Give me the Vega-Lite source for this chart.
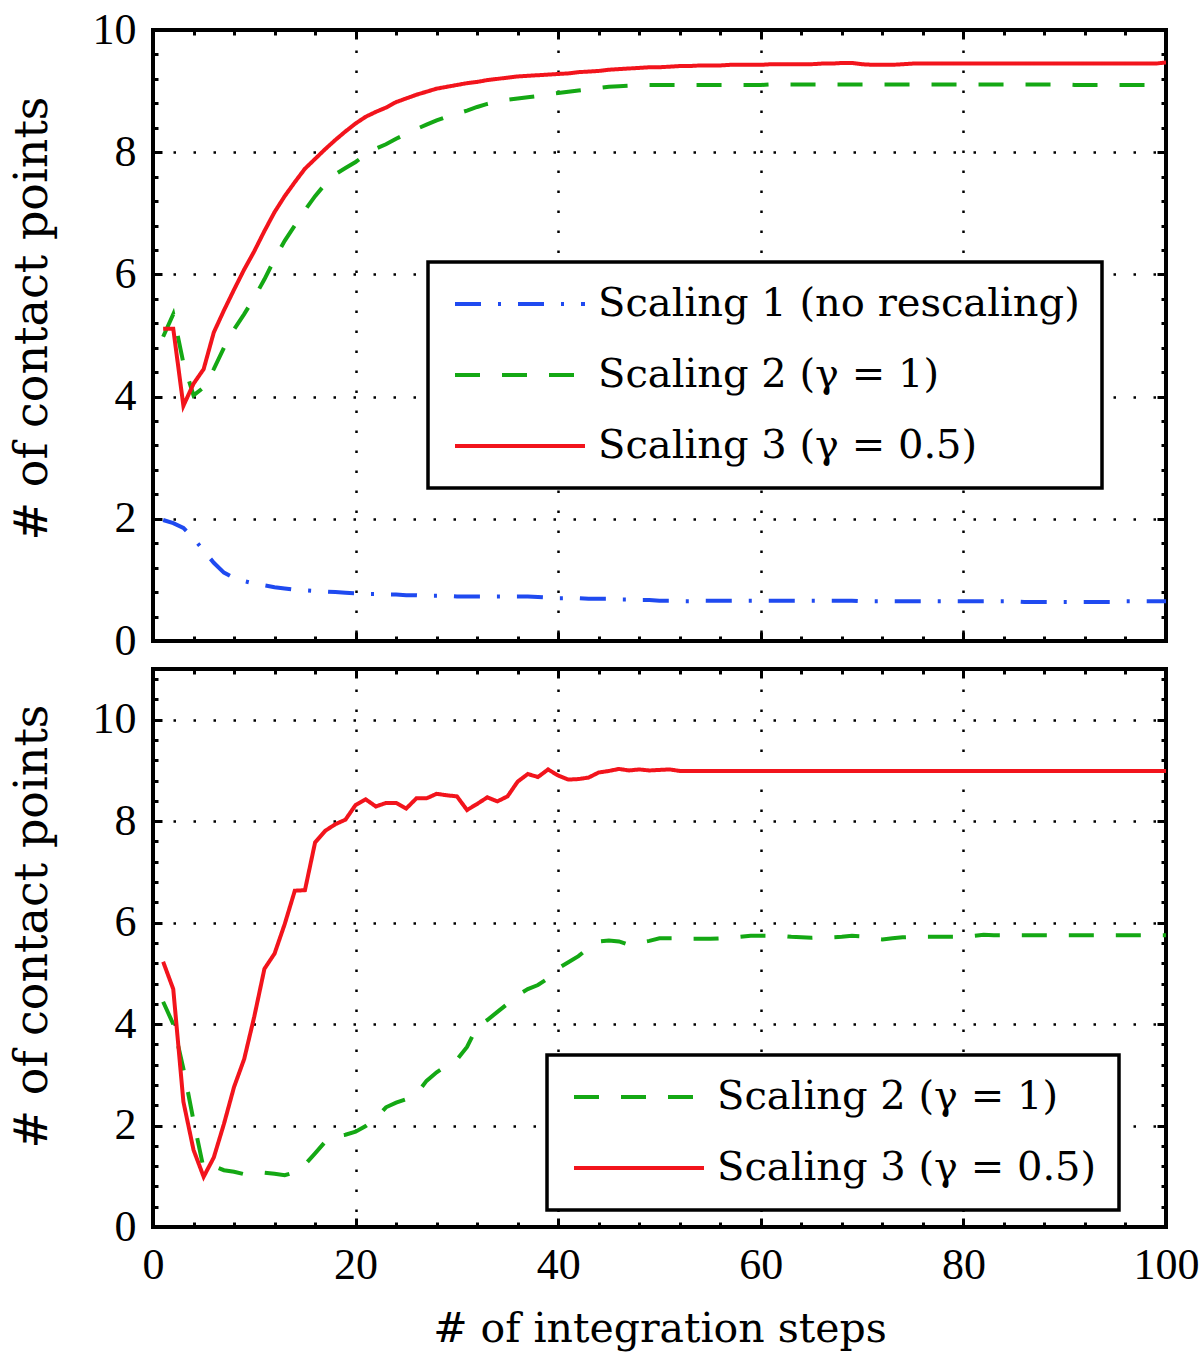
{
  "$schema": "https://vega.github.io/schema/vega-lite/v6.json",
  "padding": {"left": 7, "top": 6, "right": 2, "bottom": 2},
  "background": "white",
  "spacing": 0,
  "datasets": {
    "top": [
      {"x":1,"a":1.98,"b":4.98,"c":5.11},{"x":2,"a":1.93,"b":5.35,"c":5.11},{"x":3,"a":1.85,"b":4.55,"c":3.85},{"x":4,"a":1.68,"b":4.02,"c":4.21},{"x":5,"a":1.48,"b":4.15,"c":4.45},
      {"x":6,"a":1.28,"b":4.45,"c":5.05},{"x":7,"a":1.12,"b":4.80,"c":5.41},{"x":8,"a":1.03,"b":5.10,"c":5.75},{"x":9,"a":0.98,"b":5.35,"c":6.08},{"x":10,"a":0.94,"b":5.62,"c":6.38},
      {"x":11,"a":0.91,"b":5.92,"c":6.71},{"x":12,"a":0.88,"b":6.25,"c":7.02},{"x":13,"a":0.86,"b":6.55,"c":7.28},{"x":14,"a":0.84,"b":6.80,"c":7.51},{"x":15,"a":0.83,"b":7.05,"c":7.73},
      {"x":16,"a":0.82,"b":7.28,"c":7.89},{"x":17,"a":0.81,"b":7.48,"c":8.05},{"x":18,"a":0.80,"b":7.64,"c":8.20},{"x":19,"a":0.79,"b":7.74,"c":8.34},{"x":20,"a":0.78,"b":7.84,"c":8.47},
      {"x":21,"a":0.77,"b":7.96,"c":8.58},{"x":22,"a":0.77,"b":8.06,"c":8.66},{"x":23,"a":0.76,"b":8.13,"c":8.73},{"x":24,"a":0.76,"b":8.22,"c":8.82},{"x":25,"a":0.75,"b":8.30,"c":8.88},
      {"x":26,"a":0.75,"b":8.38,"c":8.94},{"x":27,"a":0.74,"b":8.45,"c":8.99},{"x":28,"a":0.74,"b":8.52,"c":9.04},{"x":29,"a":0.74,"b":8.58,"c":9.07},{"x":30,"a":0.73,"b":8.63,"c":9.10},
      {"x":31,"a":0.73,"b":8.68,"c":9.13},{"x":32,"a":0.73,"b":8.74,"c":9.15},{"x":33,"a":0.73,"b":8.79,"c":9.18},{"x":34,"a":0.73,"b":8.83,"c":9.20},{"x":35,"a":0.73,"b":8.86,"c":9.22},
      {"x":36,"a":0.73,"b":8.88,"c":9.24},{"x":37,"a":0.73,"b":8.90,"c":9.25},{"x":38,"a":0.72,"b":8.92,"c":9.26},{"x":39,"a":0.71,"b":8.95,"c":9.27},{"x":40,"a":0.70,"b":8.97,"c":9.28},
      {"x":41,"a":0.70,"b":8.99,"c":9.29},{"x":42,"a":0.70,"b":9.01,"c":9.31},{"x":43,"a":0.69,"b":9.03,"c":9.32},{"x":44,"a":0.69,"b":9.05,"c":9.33},{"x":45,"a":0.69,"b":9.07,"c":9.35},
      {"x":46,"a":0.68,"b":9.08,"c":9.36},{"x":47,"a":0.68,"b":9.09,"c":9.37},{"x":48,"a":0.67,"b":9.09,"c":9.38},{"x":49,"a":0.67,"b":9.10,"c":9.39},{"x":50,"a":0.66,"b":9.10,"c":9.39},
      {"x":51,"a":0.66,"b":9.10,"c":9.40},{"x":52,"a":0.65,"b":9.10,"c":9.41},{"x":53,"a":0.65,"b":9.10,"c":9.41},{"x":54,"a":0.66,"b":9.10,"c":9.42},{"x":55,"a":0.66,"b":9.10,"c":9.42},
      {"x":56,"a":0.66,"b":9.10,"c":9.42},{"x":57,"a":0.66,"b":9.10,"c":9.43},{"x":58,"a":0.66,"b":9.10,"c":9.43},{"x":59,"a":0.66,"b":9.10,"c":9.43},{"x":60,"a":0.66,"b":9.10,"c":9.43},
      {"x":61,"a":0.66,"b":9.11,"c":9.44},{"x":62,"a":0.66,"b":9.11,"c":9.44},{"x":63,"a":0.66,"b":9.11,"c":9.44},{"x":64,"a":0.66,"b":9.11,"c":9.44},{"x":65,"a":0.66,"b":9.11,"c":9.44},
      {"x":66,"a":0.66,"b":9.11,"c":9.45},{"x":67,"a":0.66,"b":9.11,"c":9.45},{"x":68,"a":0.66,"b":9.11,"c":9.46},{"x":69,"a":0.66,"b":9.11,"c":9.46},{"x":70,"a":0.65,"b":9.11,"c":9.44},
      {"x":71,"a":0.65,"b":9.11,"c":9.43},{"x":72,"a":0.65,"b":9.11,"c":9.43},{"x":73,"a":0.65,"b":9.11,"c":9.43},{"x":74,"a":0.65,"b":9.11,"c":9.44},{"x":75,"a":0.65,"b":9.11,"c":9.45},
      {"x":76,"a":0.65,"b":9.11,"c":9.45},{"x":77,"a":0.65,"b":9.11,"c":9.45},{"x":78,"a":0.65,"b":9.11,"c":9.45},{"x":79,"a":0.65,"b":9.11,"c":9.45},{"x":80,"a":0.65,"b":9.11,"c":9.45},
      {"x":81,"a":0.65,"b":9.11,"c":9.45},{"x":82,"a":0.65,"b":9.11,"c":9.45},{"x":83,"a":0.65,"b":9.11,"c":9.45},{"x":84,"a":0.65,"b":9.11,"c":9.45},{"x":85,"a":0.65,"b":9.11,"c":9.45},
      {"x":86,"a":0.64,"b":9.11,"c":9.45},{"x":87,"a":0.64,"b":9.11,"c":9.45},{"x":88,"a":0.64,"b":9.11,"c":9.45},{"x":89,"a":0.64,"b":9.11,"c":9.45},{"x":90,"a":0.64,"b":9.11,"c":9.45},
      {"x":91,"a":0.64,"b":9.10,"c":9.45},{"x":92,"a":0.64,"b":9.10,"c":9.45},{"x":93,"a":0.64,"b":9.10,"c":9.45},{"x":94,"a":0.64,"b":9.10,"c":9.45},{"x":95,"a":0.64,"b":9.10,"c":9.45},
      {"x":96,"a":0.65,"b":9.10,"c":9.45},{"x":97,"a":0.65,"b":9.10,"c":9.45},{"x":98,"a":0.65,"b":9.10,"c":9.45},{"x":99,"a":0.65,"b":9.10,"c":9.45},{"x":100,"a":0.65,"b":9.09,"c":9.47}
    ],
    "bottom": [
      {"x":1,"b":4.44,"c":5.23},{"x":2,"b":4.00,"c":4.69},{"x":3,"b":3.12,"c":2.47},{"x":4,"b":2.10,"c":1.52},{"x":5,"b":1.15,"c":0.99},
      {"x":6,"b":1.20,"c":1.37},{"x":7,"b":1.12,"c":2.03},{"x":8,"b":1.09,"c":2.76},{"x":9,"b":1.04,"c":3.31},{"x":10,"b":1.04,"c":4.15},
      {"x":11,"b":1.07,"c":5.09},{"x":12,"b":1.05,"c":5.39},{"x":13,"b":1.02,"c":5.97},{"x":14,"b":1.08,"c":6.63},{"x":15,"b":1.23,"c":6.64},
      {"x":16,"b":1.45,"c":7.58},{"x":17,"b":1.68,"c":7.81},{"x":18,"b":1.79,"c":7.94},{"x":19,"b":1.82,"c":8.03},{"x":20,"b":1.88,"c":8.32},
      {"x":21,"b":1.99,"c":8.43},{"x":22,"b":2.14,"c":8.29},{"x":23,"b":2.36,"c":8.36},{"x":24,"b":2.45,"c":8.36},{"x":25,"b":2.52,"c":8.25},
      {"x":26,"b":2.62,"c":8.45},{"x":27,"b":2.88,"c":8.45},{"x":28,"b":3.05,"c":8.54},{"x":29,"b":3.18,"c":8.51},{"x":30,"b":3.30,"c":8.49},
      {"x":31,"b":3.55,"c":8.22},{"x":32,"b":3.95,"c":8.34},{"x":33,"b":4.08,"c":8.47},{"x":34,"b":4.24,"c":8.39},{"x":35,"b":4.40,"c":8.49},
      {"x":36,"b":4.57,"c":8.78},{"x":37,"b":4.69,"c":8.93},{"x":38,"b":4.77,"c":8.87},{"x":39,"b":4.90,"c":9.02},{"x":40,"b":5.10,"c":8.90},
      {"x":41,"b":5.22,"c":8.82},{"x":42,"b":5.34,"c":8.83},{"x":43,"b":5.50,"c":8.86},{"x":44,"b":5.63,"c":8.96},{"x":45,"b":5.65,"c":8.99},
      {"x":46,"b":5.63,"c":9.03},{"x":47,"b":5.56,"c":9.00},{"x":48,"b":5.60,"c":9.02},{"x":49,"b":5.64,"c":9.00},{"x":50,"b":5.69,"c":9.01},
      {"x":51,"b":5.69,"c":9.02},{"x":52,"b":5.69,"c":8.99},{"x":53,"b":5.68,"c":8.99},{"x":54,"b":5.68,"c":8.99},{"x":55,"b":5.68,"c":8.99},
      {"x":56,"b":5.69,"c":8.99},{"x":57,"b":5.70,"c":8.99},{"x":58,"b":5.72,"c":8.99},{"x":59,"b":5.74,"c":8.99},{"x":60,"b":5.74,"c":8.99},
      {"x":61,"b":5.74,"c":8.99},{"x":62,"b":5.74,"c":8.99},{"x":63,"b":5.72,"c":8.99},{"x":64,"b":5.71,"c":8.99},{"x":65,"b":5.70,"c":8.99},
      {"x":66,"b":5.71,"c":8.99},{"x":67,"b":5.71,"c":8.99},{"x":68,"b":5.72,"c":8.99},{"x":69,"b":5.74,"c":8.99},{"x":70,"b":5.73,"c":8.99},
      {"x":71,"b":5.69,"c":8.99},{"x":72,"b":5.67,"c":8.99},{"x":73,"b":5.69,"c":8.99},{"x":74,"b":5.71,"c":8.99},{"x":75,"b":5.72,"c":8.99},
      {"x":76,"b":5.72,"c":8.99},{"x":77,"b":5.72,"c":8.99},{"x":78,"b":5.72,"c":8.99},{"x":79,"b":5.72,"c":8.99},{"x":80,"b":5.72,"c":8.99},
      {"x":81,"b":5.74,"c":8.99},{"x":82,"b":5.76,"c":8.99},{"x":83,"b":5.75,"c":8.99},{"x":84,"b":5.75,"c":8.99},{"x":85,"b":5.75,"c":8.99},
      {"x":86,"b":5.75,"c":8.99},{"x":87,"b":5.75,"c":8.99},{"x":88,"b":5.75,"c":8.99},{"x":89,"b":5.75,"c":8.99},{"x":90,"b":5.75,"c":8.99},
      {"x":91,"b":5.75,"c":8.99},{"x":92,"b":5.75,"c":8.99},{"x":93,"b":5.75,"c":8.99},{"x":94,"b":5.75,"c":8.99},{"x":95,"b":5.75,"c":8.99},
      {"x":96,"b":5.75,"c":8.99},{"x":97,"b":5.75,"c":8.99},{"x":98,"b":5.75,"c":8.99},{"x":99,"b":5.75,"c":8.99},{"x":100,"b":5.75,"c":8.99}
    ]
  },
  "resolve": {"scale": {"x": "independent", "y": "independent", "color": "independent", "strokeDash": "independent"}},
  "vconcat": [
    {
      "width": 1013,
      "height": 611,
      "data": {"name": "top"},
      "resolve": {"axis": {"x": "independent", "y": "independent"}},
      "layer": [
        {
          "transform": [{"fold": ["a", "b", "c"], "as": ["s", "v"]}],
          "mark": {"type": "line", "strokeWidth": 4, "clip": true},
          "encoding": {
            "x": {"field": "x", "type": "quantitative", "scale": {"domain": [0, 100], "nice": false},
                  "axis": {"orient": "bottom", "values": [0, 20, 40, 60, 80, 100], "labels": false, "ticks": false, "domain": false, "grid": true, "title": null}},
            "y": {"field": "v", "type": "quantitative", "scale": {"domain": [0, 10], "nice": false, "zero": false},
                  "axis": {"orient": "left", "values": [0, 2, 4, 6, 8, 10], "ticks": false, "domain": false, "grid": true, "labels": true, "title": "# of contact points", "titleY": 288}},
            "color": {"field": "s", "type": "nominal",
                      "scale": {"domain": ["a", "b", "c"], "range": ["#1f4af0", "#14a814", "#f2141c"]},
                      "legend": {"orient": "none", "legendX": 275, "legendY": 232, "title": null,
                                 "labelExpr": "datum.label == 'a' ? 'Scaling 1 (no rescaling)' : datum.label == 'b' ? 'Scaling 2 (γ = 1)' : 'Scaling 3 (γ = 0.5)'"}},
            "strokeDash": {"field": "s", "type": "nominal",
                      "scale": {"domain": ["a", "b", "c"], "range": [[26, 17, 3, 17], [25, 22], [1, 0]]},
                      "legend": {"orient": "none", "legendX": 275, "legendY": 232, "title": null,
                                 "labelExpr": "datum.label == 'a' ? 'Scaling 1 (no rescaling)' : datum.label == 'b' ? 'Scaling 2 (γ = 1)' : 'Scaling 3 (γ = 0.5)'"}}
          }
        },
        {
          "mark": {"type": "point", "opacity": 0},
          "encoding": {
            "x": {"field": "x", "type": "quantitative", "scale": {"domain": [0, 100], "nice": false},
                  "axis": {"orient": "bottom", "values": [0, 20, 40, 60, 80, 100], "labels": false, "domain": false, "grid": false, "ticks": true, "tickSize": 9, "offset": -9, "title": null}},
            "y": {"field": "c", "type": "quantitative", "scale": {"domain": [0, 10], "nice": false, "zero": false},
                  "axis": {"orient": "left", "values": [0, 2, 4, 6, 8, 10], "labels": false, "domain": false, "grid": false, "ticks": true, "tickSize": 9, "offset": -9, "title": null}}
          }
        },
        {
          "mark": {"type": "point", "opacity": 0},
          "encoding": {
            "x": {"field": "x", "type": "quantitative", "scale": {"domain": [0, 100], "nice": false},
                  "axis": {"orient": "top", "values": [0, 20, 40, 60, 80, 100], "labels": false, "domain": false, "grid": false, "ticks": true, "tickSize": 9, "offset": -9, "title": null}},
            "y": {"field": "c", "type": "quantitative", "scale": {"domain": [0, 10], "nice": false, "zero": false},
                  "axis": {"orient": "right", "values": [0, 2, 4, 6, 8, 10], "labels": false, "domain": false, "grid": false, "ticks": true, "tickSize": 9, "offset": -9, "title": null}}
          }
        },
        {
          "mark": {"type": "point", "opacity": 0},
          "encoding": {
            "x": {"field": "x", "type": "quantitative", "scale": {"domain": [0, 100], "nice": false},
                  "axis": {"orient": "bottom", "values": [4, 8, 12, 16, 24, 28, 32, 36, 44, 48, 52, 56, 64, 68, 72, 76, 84, 88, 92, 96], "labels": false, "domain": false, "grid": false, "ticks": true, "tickSize": 5, "offset": -5, "title": null}},
            "y": {"field": "c", "type": "quantitative", "scale": {"domain": [0, 10], "nice": false, "zero": false},
                  "axis": {"orient": "left", "values": [0.4, 0.8, 1.2, 1.6, 2.4, 2.8, 3.2, 3.6, 4.4, 4.8, 5.2, 5.6, 6.4, 6.8, 7.2, 7.6, 8.4, 8.8, 9.2, 9.6], "labels": false, "domain": false, "grid": false, "ticks": true, "tickSize": 5, "offset": -5, "title": null}}
          }
        },
        {
          "mark": {"type": "point", "opacity": 0},
          "encoding": {
            "x": {"field": "x", "type": "quantitative", "scale": {"domain": [0, 100], "nice": false},
                  "axis": {"orient": "top", "values": [4, 8, 12, 16, 24, 28, 32, 36, 44, 48, 52, 56, 64, 68, 72, 76, 84, 88, 92, 96], "labels": false, "domain": false, "grid": false, "ticks": true, "tickSize": 5, "offset": -5, "title": null}},
            "y": {"field": "c", "type": "quantitative", "scale": {"domain": [0, 10], "nice": false, "zero": false},
                  "axis": {"orient": "right", "values": [0.4, 0.8, 1.2, 1.6, 2.4, 2.8, 3.2, 3.6, 4.4, 4.8, 5.2, 5.6, 6.4, 6.8, 7.2, 7.6, 8.4, 8.8, 9.2, 9.6], "labels": false, "domain": false, "grid": false, "ticks": true, "tickSize": 5, "offset": -5, "title": null}}
          }
        }
      ]
    },
    {
      "width": 1013,
      "height": 558,
      "data": {"name": "bottom"},
      "resolve": {"axis": {"x": "independent", "y": "independent"}},
      "layer": [
        {
          "transform": [{"fold": ["b", "c"], "as": ["s", "v"]}],
          "mark": {"type": "line", "strokeWidth": 4, "clip": true},
          "encoding": {
            "x": {"field": "x", "type": "quantitative", "scale": {"domain": [0, 100], "nice": false},
                  "axis": {"orient": "bottom", "values": [0, 20, 40, 60, 80, 100], "labels": true, "ticks": false, "domain": false, "grid": true, "title": "# of integration steps", "titleFontSize": 41, "labelPadding": 16, "titlePadding": 22}},
            "y": {"field": "v", "type": "quantitative", "scale": {"domain": [0, 11], "nice": false, "zero": false},
                  "axis": {"orient": "left", "values": [0, 2, 4, 6, 8, 10], "ticks": false, "domain": false, "grid": true, "labels": true, "title": "# of contact points", "titleY": 257}},
            "color": {"field": "s", "type": "nominal",
                      "scale": {"domain": ["b", "c"], "range": ["#14a814", "#f2141c"]},
                      "legend": {"orient": "none", "legendX": 394, "legendY": 386, "title": null,
                                 "labelExpr": "datum.label == 'b' ? 'Scaling 2 (γ = 1)' : 'Scaling 3 (γ = 0.5)'"}},
            "strokeDash": {"field": "s", "type": "nominal",
                      "scale": {"domain": ["b", "c"], "range": [[25, 22], [1, 0]]},
                      "legend": {"orient": "none", "legendX": 394, "legendY": 386, "title": null,
                                 "labelExpr": "datum.label == 'b' ? 'Scaling 2 (γ = 1)' : 'Scaling 3 (γ = 0.5)'"}}
          }
        },
        {
          "mark": {"type": "point", "opacity": 0},
          "encoding": {
            "x": {"field": "x", "type": "quantitative", "scale": {"domain": [0, 100], "nice": false},
                  "axis": {"orient": "bottom", "values": [0, 20, 40, 60, 80, 100], "labels": false, "domain": false, "grid": false, "ticks": true, "tickSize": 9, "offset": -9, "title": null}},
            "y": {"field": "c", "type": "quantitative", "scale": {"domain": [0, 11], "nice": false, "zero": false},
                  "axis": {"orient": "left", "values": [0, 2, 4, 6, 8, 10], "labels": false, "domain": false, "grid": false, "ticks": true, "tickSize": 9, "offset": -9, "title": null}}
          }
        },
        {
          "mark": {"type": "point", "opacity": 0},
          "encoding": {
            "x": {"field": "x", "type": "quantitative", "scale": {"domain": [0, 100], "nice": false},
                  "axis": {"orient": "top", "values": [0, 20, 40, 60, 80, 100], "labels": false, "domain": false, "grid": false, "ticks": true, "tickSize": 9, "offset": -9, "title": null}},
            "y": {"field": "c", "type": "quantitative", "scale": {"domain": [0, 11], "nice": false, "zero": false},
                  "axis": {"orient": "right", "values": [0, 2, 4, 6, 8, 10], "labels": false, "domain": false, "grid": false, "ticks": true, "tickSize": 9, "offset": -9, "title": null}}
          }
        },
        {
          "mark": {"type": "point", "opacity": 0},
          "encoding": {
            "x": {"field": "x", "type": "quantitative", "scale": {"domain": [0, 100], "nice": false},
                  "axis": {"orient": "bottom", "values": [4, 8, 12, 16, 24, 28, 32, 36, 44, 48, 52, 56, 64, 68, 72, 76, 84, 88, 92, 96], "labels": false, "domain": false, "grid": false, "ticks": true, "tickSize": 5, "offset": -5, "title": null}},
            "y": {"field": "c", "type": "quantitative", "scale": {"domain": [0, 11], "nice": false, "zero": false},
                  "axis": {"orient": "left", "values": [0.4, 0.8, 1.2, 1.6, 2.4, 2.8, 3.2, 3.6, 4.4, 4.8, 5.2, 5.6, 6.4, 6.8, 7.2, 7.6, 8.4, 8.8, 9.2, 9.6, 10.4, 10.8], "labels": false, "domain": false, "grid": false, "ticks": true, "tickSize": 5, "offset": -5, "title": null}}
          }
        },
        {
          "mark": {"type": "point", "opacity": 0},
          "encoding": {
            "x": {"field": "x", "type": "quantitative", "scale": {"domain": [0, 100], "nice": false},
                  "axis": {"orient": "top", "values": [4, 8, 12, 16, 24, 28, 32, 36, 44, 48, 52, 56, 64, 68, 72, 76, 84, 88, 92, 96], "labels": false, "domain": false, "grid": false, "ticks": true, "tickSize": 5, "offset": -5, "title": null}},
            "y": {"field": "c", "type": "quantitative", "scale": {"domain": [0, 11], "nice": false, "zero": false},
                  "axis": {"orient": "right", "values": [0.4, 0.8, 1.2, 1.6, 2.4, 2.8, 3.2, 3.6, 4.4, 4.8, 5.2, 5.6, 6.4, 6.8, 7.2, 7.6, 8.4, 8.8, 9.2, 9.6, 10.4, 10.8], "labels": false, "domain": false, "grid": false, "ticks": true, "tickSize": 5, "offset": -5, "title": null}}
          }
        }
      ]
    }
  ],
  "config": {
    "view": {"stroke": "black", "strokeWidth": 4},
    "axis": {
      "labelFont": "Liberation Serif", "labelFontSize": 44, "labelColor": "black", "labelPadding": 17,
      "labelFlush": false, "labelOverlap": false,
      "titleFont": "DejaVu Serif", "titleFontSize": 46, "titleFontWeight": "normal", "titleColor": "black", "titlePadding": 36,
      "tickColor": "black", "tickWidth": 3,
      "gridColor": "black", "gridOpacity": 1, "gridWidth": 2.5, "gridDash": [2.5, 17.5]
    },
    "legend": {
      "labelFont": "DejaVu Serif", "labelFontSize": 40, "labelColor": "black", "labelLimit": 1000,
      "labelOffset": 108, "padding": 22, "rowPadding": 31,
      "strokeColor": "black", "strokeWidth": 3.5, "fillColor": "white",
      "symbolType": "M-1.5,0H11.5", "symbolSize": 400, "symbolStrokeWidth": 4
    }
  }
}
